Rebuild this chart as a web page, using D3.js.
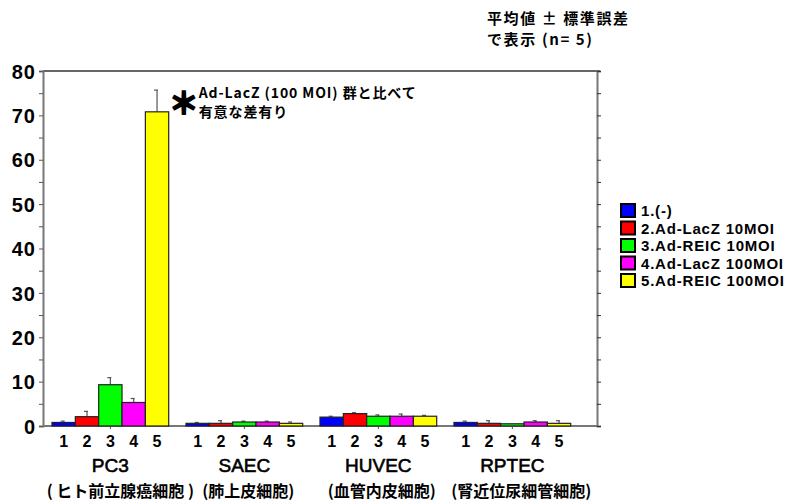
<!DOCTYPE html>
<html>
<head>
<meta charset="utf-8">
<script src="https://cdn.jsdelivr.net/npm/d3@7"></script>
<style>
  html, body { margin: 0; padding: 0; background: #fff; }
  svg { display: block; }
  text { font-family: "Liberation Sans", Arial, "Noto Sans CJK JP", sans-serif; font-weight: bold; fill: #000; }
  .jp { font-family: "Noto Sans CJK JP", "Liberation Sans", sans-serif; font-weight: bold; }
</style>
</head>
<body>
<svg id="chart" width="791" height="504"></svg>
<script>
// Cell lines and their subtitles
const cellLines = ["PC3", "SAEC", "HUVEC", "RPTEC"];
const cellLineNotes = ["( ヒト前立腺癌細胞 )", "(肺上皮細胞)", "(血管内皮細胞)", "(腎近位尿細管細胞)"];

// Treatment groups (legend) and bar colours
const treatments = ["1.(-)", "2.Ad-LacZ 10MOI", "3.Ad-REIC 10MOI", "4.Ad-LacZ 100MOI", "5.Ad-REIC 100MOI"];
const treatmentTicks = ["1", "2", "3", "4", "5"];
const colors = ["#0000ff", "#ff0000", "#00ff00", "#ff00ff", "#ffff00"];

// Means per cell line, one value per treatment
const meanPC3   = [0.8, 2.1, 9.3, 5.3, 70.8];
const meanSAEC  = [0.6, 0.6, 0.9, 0.9, 0.6];
const meanHUVEC = [2.0, 2.8, 2.2, 2.2, 2.2];
const meanRPTEC = [0.8, 0.6, 0.5, 0.9, 0.6];

// Standard errors
const sePC3   = [0.3, 1.2, 1.6, 0.9, 4.9];
const seSAEC  = [0.2, 0.6, 0.2, 0.2, 0.3];
const seHUVEC = [0.2, 0.2, 0.3, 0.5, 0.2];
const seRPTEC = [0.3, 0.6, 0.0, 0.3, 0.6];

const yTicks = [0, 10, 20, 30, 40, 50, 60, 70, 80];

const means = [meanPC3, meanSAEC, meanHUVEC, meanRPTEC];
const errors = [sePC3, seSAEC, seHUVEC, seRPTEC];

const svg = d3.select("#chart");

const plotLeft = 43, plotRight = 597, plotTop = 71, plotBottom = 426;

const y = d3.scaleLinear().domain([0, 80]).range([plotBottom, plotTop]);
const x0 = d3.scaleBand().domain(cellLines).range([43.35, 579.35])
  .paddingInner(0.129).paddingOuter(0.0645);
const x1 = d3.scaleBand().domain(d3.range(treatments.length)).range([0, x0.bandwidth()]).padding(0);

// Frame: top line
svg.append("line").attr("x1", plotLeft).attr("x2", plotRight + 3)
  .attr("y1", plotTop).attr("y2", plotTop).attr("stroke", "#333").attr("stroke-width", 1.5);

// Left axis: labelled every 10, minor ticks every 5
const leftAxis = d3.axisLeft(y).tickValues(d3.range(0, 81, 5)).tickSize(4)
  .tickFormat(d => yTicks.includes(d) ? d : "");
const gl = svg.append("g").attr("transform", `translate(${plotLeft},0)`).call(leftAxis);
gl.select(".domain").attr("stroke", "#777").attr("stroke-width", 2);
gl.selectAll(".tick line").attr("stroke", "#555");
gl.selectAll(".tick text").attr("x", -7).style("font-size", "20px").style("font-weight", "bold")
  .style("letter-spacing", "1px").attr("dy", "0.36em");

// Right axis
const rightAxis = d3.axisRight(y).tickValues(d3.range(0, 81, 5)).tickSize(4).tickFormat("");
const gr = svg.append("g").attr("transform", `translate(${plotRight},0)`).call(rightAxis);
gr.select(".domain").attr("stroke", "#777").attr("stroke-width", 2);
gr.selectAll(".tick line").attr("stroke", "#333");

// Bottom axis line with ticks at each group centre
svg.append("line").attr("x1", plotLeft).attr("x2", plotRight)
  .attr("y1", plotBottom).attr("y2", plotBottom).attr("stroke", "#777").attr("stroke-width", 2);
svg.selectAll(".xtick").data(cellLines).enter().append("line")
  .attr("x1", d => x0(d) + x0.bandwidth() / 2).attr("x2", d => x0(d) + x0.bandwidth() / 2)
  .attr("y1", plotBottom).attr("y2", plotBottom + 3).attr("stroke", "#555");

// Bars and error bars
const groups = svg.selectAll(".grp").data(cellLines).enter().append("g")
  .attr("transform", d => `translate(${x0(d)},0)`);

groups.each(function(line, gi) {
  const g = d3.select(this);
  const rows = means[gi].map((m, i) => ({ m, e: errors[gi][i], i }));
  // error bars behind bars
  g.selectAll(".err").data(rows).enter().append("g").each(function(d) {
    const cx = x1(d.i) + x1.bandwidth() / 2;
    const e = d3.select(this);
    if (d.e > 0) {
      e.append("line").attr("x1", cx).attr("x2", cx).attr("y1", y(d.m)).attr("y2", y(d.m + d.e))
        .attr("stroke", "#555").attr("stroke-width", 1.2);
      e.append("line").attr("x1", cx - 3).attr("x2", cx + 1).attr("y1", y(d.m + d.e)).attr("y2", y(d.m + d.e))
        .attr("stroke", "#555").attr("stroke-width", 1.2);
    }
  });
  g.selectAll("rect").data(rows).enter().append("rect")
    .attr("x", d => x1(d.i)).attr("width", x1.bandwidth())
    .attr("y", d => y(d.m)).attr("height", d => y(0) - y(d.m))
    .attr("fill", d => colors[d.i]).attr("stroke", "#222").attr("stroke-width", 1.2);
  // treatment numbers
  g.selectAll(".num").data(treatmentTicks).enter().append("text")
    .attr("x", (d, i) => x1(i) + x1.bandwidth() / 2).attr("y", 447)
    .attr("text-anchor", "middle").style("font-size", "16px").text(d => d);
  // cell line name
  g.append("text").attr("x", x0.bandwidth() / 2).attr("y", 472).attr("text-anchor", "middle")
    .style("font-size", "19px").style("font-weight", "normal").style("stroke", "#000").style("stroke-width", 0.6)
    .text(line);
});

// Subtitles under each cell line
const noteOffsets = [10, 4, 3.5, 9];
svg.selectAll(".note").data(cellLineNotes).enter().append("text").attr("class", "jp")
  .attr("x", (d, i) => x0(cellLines[i]) + x0.bandwidth() / 2 + noteOffsets[i]).attr("y", 497)
  .attr("text-anchor", "middle").style("font-size", "16px").text(d => d);

// Significance annotation next to the tallest bar
const starX = x0("PC3") + x1(4) + x1.bandwidth() + 15;
svg.append("text").attr("class", "jp").attr("x", starX).attr("y", y(meanPC3[4]) - 11)
  .attr("text-anchor", "middle").attr("dominant-baseline", "central")
  .style("font-size", "30px").style("font-weight", "900").style("stroke", "#000").style("stroke-width", 1.5)
  .text("＊");
svg.append("text").attr("class", "jp").attr("x", starX + 15).attr("y", y(meanPC3[4]) - 14)
  .style("font-size", "14px").style("letter-spacing", "0.9px").text("Ad-LacZ (100 MOI) 群と比べて");
svg.append("text").attr("class", "jp").attr("x", starX + 15).attr("y", y(meanPC3[4]) + 5)
  .style("font-size", "14px").style("letter-spacing", "0.9px").text("有意な差有り");

// Note on statistics
svg.append("text").attr("class", "jp").attr("x", 487).attr("y", 24).style("font-size", "15px")
  .attr("textLength", 141).attr("lengthAdjust", "spacing").text("平均値 ± 標準誤差");
svg.append("text").attr("class", "jp").attr("x", 487).attr("y", 45).style("font-size", "15px")
  .attr("textLength", 105).attr("lengthAdjust", "spacing").text("で表示 (n= 5)");

// Legend
const legend = svg.append("g").attr("transform", "translate(621,204)");
treatments.forEach((t, i) => {
  const row = legend.append("g").attr("transform", `translate(0,${i * 17.5})`);
  row.append("rect").attr("x", 0).attr("y", 0).attr("width", 14).attr("height", 13)
    .attr("fill", colors[i]).attr("stroke", "#000").attr("stroke-width", 2);
  row.append("text").attr("x", 20).attr("y", 12).style("font-size", "15px")
    .style("letter-spacing", "0.8px").text(t);
});
</script>
</body>
</html>
